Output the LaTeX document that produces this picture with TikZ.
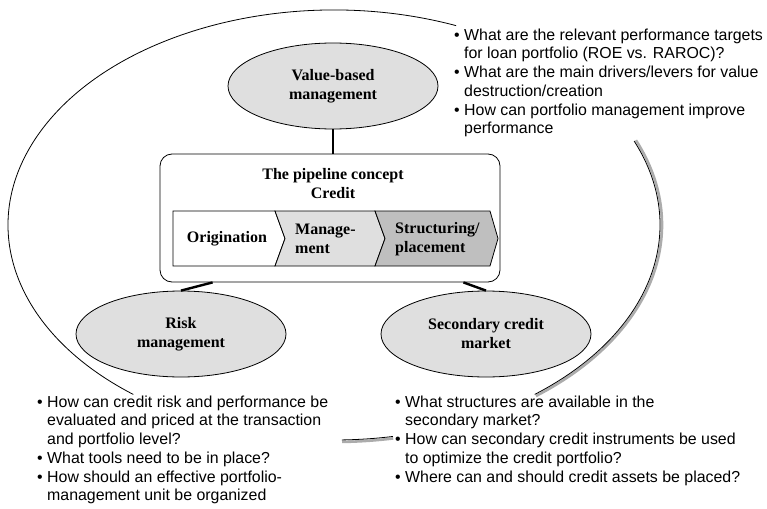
\documentclass[tikz,border=0pt]{standalone}
\usepackage{fontspec}
\setmainfont{Liberation Serif}
\setsansfont{Liberation Sans}
\usetikzlibrary{calc,shapes.geometric}
\def\ellarc[#1](#2)(#3:#4:#5:#6){\draw[#1] ($(#2)+({#5*cos(#3)},{#6*sin(#3)})$) arc[start angle=#3, end angle=#4, x radius=#5, y radius=#6];}
\newcommand{\qb}{\makebox[10pt][l]{\textbullet}}
\newcommand{\qc}{\hspace*{10pt}}

\begin{document}
\begin{tikzpicture}[x=1pt, y=-1pt,
		topic/.style={ellipse, draw, line width=0.8pt, fill=gray!25, minimum width=210pt, minimum height=86pt, inner sep=0pt, align=center, font=\fontsize{16}{19}\selectfont\bfseries},
		link/.style={line width=2.4pt},
		chev/.style={draw, line width=0.8pt},
		chevtext/.style={inner sep=0pt, align=left, font=\fontsize{16}{19}\selectfont\bfseries},
		question/.style={anchor=north west, inner sep=0pt, align=left, font=\sffamily\fontsize{15.9}{18.7}\selectfont},
		loopline/.style={line width=0.8pt},
		loopshade/.style={line width=2.6pt, color=gray!65}]
			%%%%% START %%%%%
			\useasboundingbox (0,0) rectangle (767,508);
			
			% the big loop round everything
			\ellarc[loopline](334,225)(292:128:326:215)
			\ellarc[loopshade](334,225)(-23:52:328:217)
			\ellarc[loopline](334,225)(-23:52:326:215)
			\ellarc[loopshade](334,225)(88.6:79.6:328:217)
			\ellarc[loopline](334,225)(88.6:79.6:326:215)
			
			% pipeline box
			\node[draw, line width=0.8pt, rounded corners=12pt, minimum width=340pt, minimum height=128pt, inner sep=0pt] (pipe) at (330,218) {};
			\node[chevtext, align=center] (title) at (333,184) {The pipeline concept\\Credit};
			
			\draw[chev, fill=white] (173,211) -- (275,211) -- (285,238.5) -- (275,266) -- (173,266) -- cycle;
			\draw[chev, fill=gray!25] (275,211) -- (375,211) -- (385,238.5) -- (375,266) -- (275,266) -- (285,238.5) -- cycle;
			\draw[chev, fill=gray!50] (375,211) -- (490,211) -- (498,238.5) -- (490,266) -- (375,266) -- (385,238.5) -- cycle;
			\node[chevtext] (orig) at (227,239) {Origination};
			\node[chevtext, anchor=west] (mgmt) at (295,239) {Manage-\\ment};
			\node[chevtext, anchor=west] (struc) at (395,239) {Structuring/\\placement};
			
			% topics
			\node[topic] (vbm) at (333,86) {Value-based\\management};
			\node[topic] (risk) at (181,334) {Risk\\management};
			\node[topic] (market) at (486,334) {Secondary credit\\market};
			
			\draw[link] (vbm.south) -- (vbm.south |- pipe.north);
			\draw[link] ([xshift=53pt]pipe.south west) -- (risk.north);
			\draw[link] ([xshift=-37pt]pipe.south east) -- (market.north);
			
			% questions
			\node[question] (qvbm) at (454,28.5) {\qb What are the relevant performance targets\\
				\qc for loan portfolio (ROE vs. RAROC)?\\
				\qb What are the main drivers/levers for value\\
				\qc destruction/creation\\
				\qb How can portfolio management improve\\
				\qc performance};
			\node[question] (qrisk) at (37,395.5) {\qb How can credit risk and performance be\\
				\qc evaluated and priced at the transaction\\
				\qc and portfolio level?\\
				\qb What tools need to be in place?\\
				\qb How should an effective portfolio-\\
				\qc management unit be organized};
			\node[question] (qmarket) at (395,395.5) {\qb What structures are available in the\\
				\qc secondary market?\\
				\qb How can secondary credit instruments be used\\
				\qc to optimize the credit portfolio?\\
				\qb Where can and should credit assets be placed?};
			
			%%%%% END %%%%%
\end{tikzpicture}
\end{document}
